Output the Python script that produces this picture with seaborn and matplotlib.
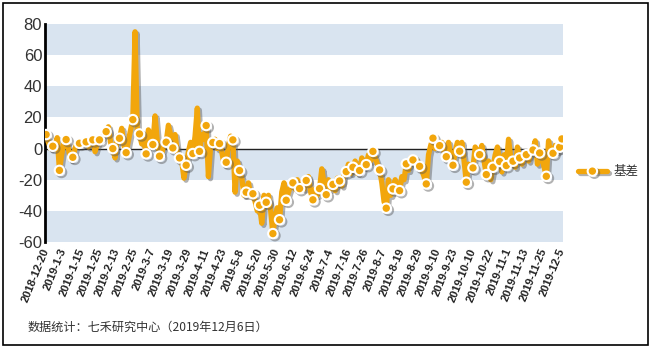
import matplotlib
matplotlib.use("Agg")
import matplotlib.pyplot as plt
import matplotlib.patheffects as pe
from matplotlib.patches import Rectangle
import seaborn as sns
import pandas as pd

# ---- data ----
tick_labels = ["2018-12-20", "2019-1-3", "2019-1-15", "2019-1-25", "2019-2-13", "2019-2-25",
               "2019-3-7", "2019-3-19", "2019-3-29", "2019-4-11", "2019-4-23", "2019-5-8",
               "2019-5-20", "2019-5-30", "2019-6-12", "2019-6-24", "2019-7-4", "2019-7-16",
               "2019-7-26", "2019-8-7", "2019-8-19", "2019-8-29", "2019-9-10", "2019-9-23",
               "2019-10-10", "2019-10-22", "2019-11-1", "2019-11-13", "2019-11-25", "2019-12-5"]
tick_step = 8
basis_values = [
    9, 4, 0, 1.5, 2, 7, -14, -4, 4, 5.8,
    0, -7, -5.6, 0, 4, 3.4, 4, 3, 4.3, 1,
    6, 5.6, -2, 3, 5.6, 7, 9, 10.9, 14, 4,
    0, -6, 8, 6.6, 13, 2, -2.6, 5, 12, 18.6,
    75, 12, 9.4, 3, 6, -3.4, 12, 8, 2.6, 21,
    5, -4.9, -3, 2, 4.1, 15, 9, 0.4, 9, -2,
    -6, -8, -19, -10.7, -2, 4, -3.2, 8, 26, -1.8,
    9, 6, 14.8, -18, 2, 3.9, 6, 0, 3.2, -2,
    -10, -8.8, 2, 8, 5.6, -28, -8, -14.1, -19, -30,
    -28, -22, -30, -29, -34, -40, -36.4, -48, -30, -34.5,
    -30, -40, -54.6, -44, -38, -45.7, -28, -22, -33.2, -28,
    -24, -22, -26, -20, -25.7, -22, -26, -20.5, -18, -28,
    -32.9, -26, -30, -25.7, -13, -22, -29.6, -20, -26, -23,
    -27, -19, -20.8, -24, -16, -14.8, -10, -16, -12, -8,
    -16, -14.1, -6, -12, -10.3, -4, -8, -1.8, -6, -10,
    -13.7, -22, -34, -38.3, -20, -30, -25.9, -20, -24, -27,
    -18, -20, -9.8, -14, -6, -7.3, -10, -8, -11.4, -14,
    -18, -22.7, -4, 2, 6.7, 0, 3, 1.9, 4, -2,
    -5.2, 4, -4, -10.7, -2, 4, -1.7, 4, -8, -21.6,
    -10, -14, -12.4, 1, -2, -3.9, 2, -8, -16.7, -8,
    -20, -12, -4, 1, -8.3, -15, -4, -10.9, 6, -6,
    -8.1, -12, 1, -6, -10, -4, -3.9, -8, -2, -0.9,
    5, -10, -2.8, -6, -12, -17.8, 5, -4, -3, 2,
    -2, 0.9, 6.2,
]
series_name = "基差"
y_ticks = [80, 60, 40, 20, 0, -20, -40, -60]
footnote = "数据统计：七禾研究中心（2019年12月6日）"

# ---- style ----
sns.set_style("white")
plt.rcParams["font.family"] = ["Liberation Sans", "Noto Sans CJK SC", "DejaVu Sans"]

ORANGE = "#F2A60C"
BAND = "#D9E4F0"
TXT = "#333333"

df = pd.DataFrame({"idx": range(len(basis_values)), "value": basis_values})
n = len(basis_values)
mark_idx = list(range(0, n, 3))
if mark_idx[-1] != n - 1:
    mark_idx.append(n - 1)

fig = plt.figure(figsize=(6.52, 3.47), dpi=100)
ax = fig.add_axes([45 / 652, 1 - 242 / 347, 518 / 652, 218 / 347])

# alternating horizontal bands (blue on 60..80, 20..40, -20..0, -60..-40)
for i, lo in enumerate(range(60, -80, -20)):
    if i % 2 == 0:
        ax.axhspan(lo, lo + 20, color=BAND, lw=0, zorder=0)

ax.axhline(0, color="#222222", lw=1.0, zorder=1)

sns.lineplot(data=df, x="idx", y="value", ax=ax, color=ORANGE, lw=3.8,
             marker="o", markersize=6.8, markerfacecolor=ORANGE,
             markeredgecolor="white", markeredgewidth=1.5,
             markevery=mark_idx, label=series_name, zorder=3,
             solid_joinstyle="round",
             path_effects=[pe.SimpleLineShadow(offset=(1.5, -1.5), shadow_color="#555555", alpha=0.45),
                           pe.Normal()])

ax.set_xlim(-0.5, n - 0.5)
ax.set_ylim(-60, 80)
ax.set_yticks(y_ticks)
ax.set_yticklabels([str(v) for v in y_ticks], fontsize=12, color=TXT)
ax.set_xticks(list(range(0, n, tick_step)))
ax.set_xticklabels(tick_labels, rotation=68, ha="right", va="center",
                   rotation_mode="anchor", fontsize=8, fontweight="bold", color="#222222")
ax.tick_params(axis="x", length=0, pad=5)
ax.tick_params(axis="y", length=0, pad=2)
ax.set_xlabel("")
ax.set_ylabel("")
for s in ["top", "right", "bottom"]:
    ax.spines[s].set_visible(False)
ax.spines["left"].set_color("black")
ax.spines["left"].set_linewidth(2)

leg = ax.legend(loc="center left", bbox_to_anchor=((578 - 45) / 518, (242 - 172) / 218),
                frameon=False, borderaxespad=0, borderpad=0,
                handlelength=2.3, handletextpad=0.5,
                prop={"family": ["Noto Sans CJK SC"], "size": 9})
for t in leg.get_texts():
    t.set_color(TXT)

fig.text(28 / 652, 1 - 327 / 347, footnote, fontsize=8.7, color=TXT, va="center",
         family=["Noto Sans CJK SC", "DejaVu Sans"])

fig.patches.append(Rectangle((3 / 652, 2 / 347), 645 / 652, 342 / 347, transform=fig.transFigure,
                             fill=False, edgecolor="black", lw=1.2))

fig.savefig("out.png", dpi=100)
